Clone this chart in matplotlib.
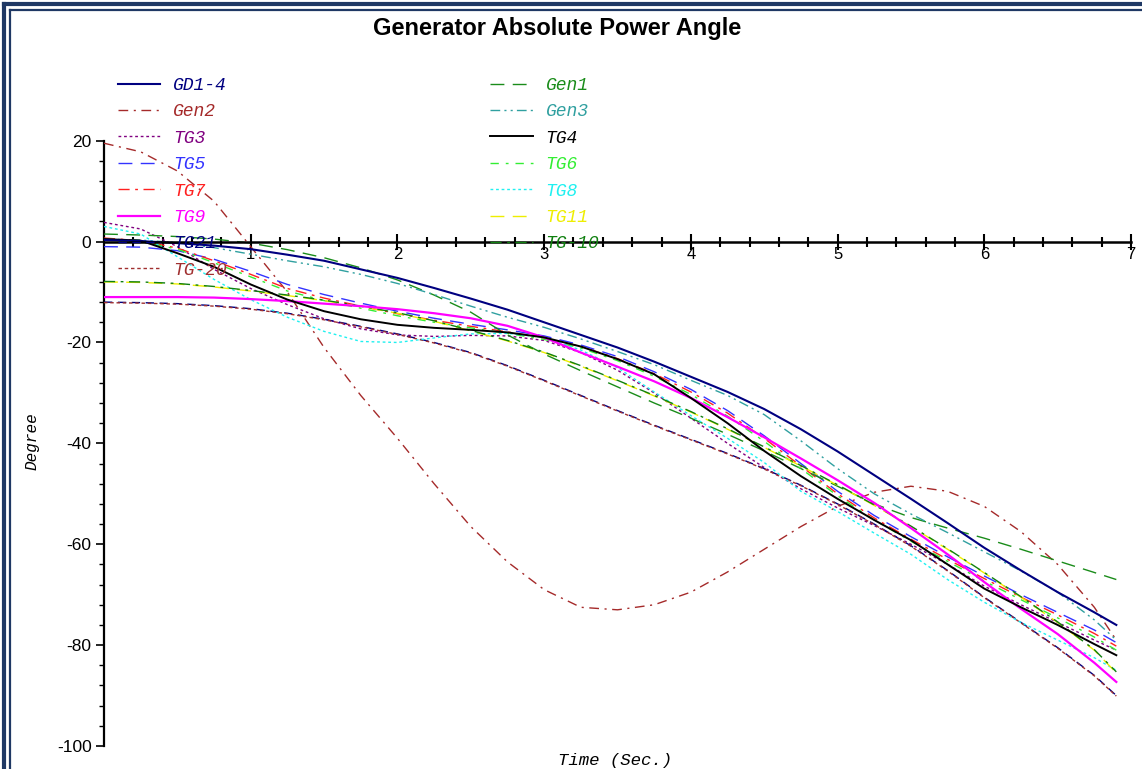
import matplotlib
matplotlib.use('Agg')
import matplotlib.pyplot as plt
from matplotlib.ticker import FixedLocator
from matplotlib.lines import Line2D

plt.rcParams['lines.scale_dashes'] = False
plt.rcParams['axes.unicode_minus'] = False
plt.rcParams['font.family'] = ['Liberation Sans', 'DejaVu Sans']

# ---------------- data ----------------
time = [0, 0.25, 0.5, 0.75, 1, 1.25, 1.5, 1.75, 2, 2.25, 2.5, 2.75, 3, 3.25, 3.5,
        3.75, 4, 4.25, 4.5, 4.75, 5, 5.25, 5.5, 5.75, 6, 6.25, 6.5, 6.75, 6.9]

gd1_4 = [0.3, 0.1, -0.3, -0.8, -1.5, -2.6, -3.8, -5.5, -7.2, -9.2, -11.3, -13.5, -16.0, -18.5, -21.0,
         -23.8, -26.8, -29.8, -33.2, -37.2, -41.6, -46.3, -51.0, -55.8, -60.7, -65.2, -69.5, -73.5, -76.0]
gen1 = [1.5, 1.3, 1.0, 0.5, -0.3, -1.6, -3.2, -5.2, -7.6, -10.6, -14.0, -18.5, -22.3, -25.6, -28.8,
        -32.0, -35.0, -38.2, -41.5, -45.0, -48.5, -52.0, -54.7, -56.8, -58.8, -61.0, -63.3, -65.6, -67.0]
gen2 = [19.5, 17.8, 14.0, 8.0, -1.0, -10.0, -21.0, -30.5, -39.0, -48.0, -56.5, -63.5, -69.0, -72.5, -73.0,
        -72.0, -69.5, -65.5, -61.0, -56.5, -52.5, -49.7, -48.5, -49.5, -52.5, -57.5, -64.0, -72.5, -79.0]
gen3 = [0.5, 0.3, -0.2, -1.2, -2.5, -3.8, -5.0, -6.5, -8.3, -10.5, -12.8, -15.0, -17.0, -19.3, -21.8,
        -24.4, -27.5, -30.5, -34.3, -39.5, -45.0, -50.0, -54.0, -57.7, -61.5, -65.3, -69.5, -75.0, -79.0]
tg3 = [3.8, 2.5, -1.0, -5.5, -9.3, -12.5, -15.3, -17.3, -18.5, -18.8, -18.6, -18.7, -19.6, -22.0, -25.5,
       -30.0, -35.0, -40.0, -44.8, -49.0, -52.8, -56.3, -60.0, -64.0, -68.3, -72.0, -75.5, -79.0, -81.0]
tg4 = [0.5, 0.2, -2.3, -5.0, -8.5, -11.5, -13.8, -15.4, -16.5, -17.1, -17.5, -18.0, -19.0, -20.8, -23.3,
       -26.3, -31.0, -36.0, -41.5, -46.5, -51.0, -55.2, -59.2, -64.0, -68.8, -72.5, -76.0, -79.8, -82.0]
tg5 = [-1.0, -1.1, -1.8, -3.5, -5.9, -8.5, -10.5, -12.2, -13.8, -15.2, -16.4, -17.5, -18.7, -20.5, -22.8,
       -25.8, -29.3, -33.5, -38.5, -44.0, -49.5, -54.3, -58.5, -62.5, -66.3, -70.0, -73.5, -77.0, -79.5]
tg6 = [0.3, 0.0, -1.5, -4.2, -7.0, -9.8, -11.7, -13.2, -14.7, -16.0, -17.1, -18.2, -19.4, -21.1, -23.6,
       -26.7, -30.3, -34.6, -39.6, -45.0, -50.4, -55.2, -59.4, -63.4, -67.3, -71.0, -74.6, -78.4, -81.0]
tg7 = [0.7, 0.2, -1.3, -3.8, -6.5, -9.3, -11.2, -12.8, -14.3, -15.6, -16.8, -17.9, -19.1, -20.8, -23.2,
       -26.2, -29.8, -34.0, -39.0, -44.5, -50.0, -54.8, -59.0, -63.0, -66.8, -70.5, -74.0, -77.7, -80.2]
tg8 = [3.0, 1.5, -3.0, -7.5, -11.5, -15.0, -17.8, -19.8, -20.0, -19.1, -18.3, -18.2, -19.0, -21.5, -25.0,
       -29.8, -34.5, -39.0, -43.8, -49.5, -53.5, -57.8, -62.0, -67.0, -71.5, -75.5, -79.0, -82.5, -85.0]
tg9 = [-11.0, -11.0, -11.0, -11.1, -11.4, -11.8, -12.3, -12.8, -13.4, -14.2, -15.2, -16.7, -19.0, -22.0, -24.8,
       -27.7, -31.0, -34.8, -38.8, -43.0, -47.3, -51.8, -56.8, -62.0, -67.5, -72.8, -77.8, -83.5, -87.3]
tg11 = [-8.0, -8.1, -8.4, -9.0, -9.8, -10.7, -11.7, -12.9, -14.2, -15.8, -17.7, -19.7, -22.0, -24.7, -27.6,
        -30.6, -33.8, -37.2, -40.8, -44.5, -48.3, -52.3, -56.5, -61.0, -65.7, -70.5, -75.5, -81.0, -85.5]
tg21 = [-12.0, -12.1, -12.3, -12.7, -13.3, -14.2, -15.4, -16.8, -18.3, -20.0, -22.0, -24.6, -27.5, -30.5, -33.5,
        -36.4, -39.2, -42.0, -45.0, -48.3, -52.0, -56.0, -60.3, -65.2, -70.5, -75.5, -80.5, -86.0, -90.0]
tg_10 = [-7.9, -8.0, -8.3, -8.9, -9.7, -10.6, -11.6, -12.8, -14.1, -15.7, -17.6, -19.6, -21.9, -24.6, -27.5,
         -30.5, -33.7, -37.1, -40.7, -44.4, -48.2, -52.2, -56.4, -60.9, -65.6, -70.4, -75.4, -80.9, -85.3]
tg_20 = [-12.1, -12.2, -12.4, -12.8, -13.4, -14.3, -15.5, -16.9, -18.4, -20.1, -22.1, -24.7, -27.6, -30.6, -33.6,
         -36.5, -39.3, -42.1, -45.1, -48.4, -52.1, -56.1, -60.4, -65.3, -70.6, -75.6, -80.6, -86.1, -90.1]

labels = ['GD1-4', 'Gen2', 'TG3', 'TG5', 'TG7', 'TG9', 'TG21', 'TG-20',
          'Gen1', 'Gen3', 'TG4', 'TG6', 'TG8', 'TG11', 'TG-10']
values = [gd1_4, gen2, tg3, tg5, tg7, tg9, tg21, tg_20,
          gen1, gen3, tg4, tg6, tg8, tg11, tg_10]

x_ticks = [1, 2, 3, 4, 5, 6, 7]
x_tick_labels = ['1', '2', '3', '4', '5', '6', '7']
y_ticks = [-100, -80, -60, -40, -20, 0, 20]
y_tick_labels = ['-100', '-80', '-60', '-40', '-20', '0', '20']

# styles: (color, linewidth, dashes or None, zorder)
styles = {
    'GD1-4': ('#000080', 1.5, None, 6),
    'Gen2': ('#a52a2a', 1.0, (7, 4, 1.5, 4), 3),
    'TG3': ('#800080', 1.0, (2, 2), 3),
    'TG5': ('#3333ff', 1.0, (10, 6), 3),
    'TG7': ('#ff2020', 1.0, (8, 4, 2, 4), 3),
    'TG9': ('#ff00ff', 1.6, None, 4),
    'TG21': ('#000080', 1.0, (6, 4), 3),
    'TG-20': ('#a03030', 1.0, (2.5, 2), 3),
    'Gen1': ('#1a8c1a', 1.0, (10, 6), 3),
    'Gen3': ('#30a0a0', 1.0, (7, 3, 1.5, 3, 1.5, 3), 3),
    'TG4': ('#000000', 1.4, None, 5),
    'TG6': ('#33ee33', 1.0, (6, 5, 2, 5), 3),
    'TG8': ('#20f0f0', 1.0, (2, 2), 3),
    'TG11': ('#eeee00', 1.0, (10, 6), 3),
    'TG-10': ('#108010', 1.0, (8, 4, 2, 4), 3),
}

W, H = 1142, 769
fig = plt.figure(figsize=(W / 100, H / 100), dpi=100)
fig.patch.set_facecolor('white')

ax_left, ax_right, ax_top, ax_bottom = 104, 1131, 60, 746
ax = fig.add_axes([ax_left / W, 1 - ax_bottom / H, (ax_right - ax_left) / W, (ax_bottom - ax_top) / H])
ax.set_xlim(0, 7)
ax.set_ylim(-100, 36.0)
ax.patch.set_alpha(0)

handles = []
for lab, vals in zip(labels, values):
    c, lw, dsh, z = styles[lab]
    if dsh is None:
        h, = ax.plot(time, vals, color=c, lw=lw, zorder=z, label=lab)
    else:
        h, = ax.plot(time, vals, color=c, lw=lw, dashes=dsh, zorder=z, label=lab)
    handles.append(h)

# spines
for s in ['top', 'right']:
    ax.spines[s].set_visible(False)
ax.spines['left'].set_bounds(-100, 20)
ax.spines['left'].set_linewidth(1.6)
ax.spines['bottom'].set_position(('data', 0))
ax.spines['bottom'].set_linewidth(1.8)
ax.spines['bottom'].set_zorder(7)

ax.set_xticks(x_ticks)
ax.set_xticklabels(x_tick_labels)
ax.xaxis.set_minor_locator(FixedLocator([i * 0.2 for i in range(1, 35) if i % 5 != 0]))
ax.set_yticks(y_ticks)
ax.set_yticklabels(y_tick_labels)
ax.yaxis.set_minor_locator(FixedLocator([v for v in range(-96, 20, 4) if v % 20 != 0]))

ax.tick_params(axis='x', which='major', direction='inout', length=12, width=1.5, pad=-2, labelsize=12)
ax.tick_params(axis='x', which='minor', direction='inout', length=7, width=1.5)
ax.tick_params(axis='y', which='major', direction='out', length=6, width=1.2, pad=3, labelsize=12.5)
ax.tick_params(axis='y', which='minor', direction='out', length=3.5, width=1.0)

mono = dict(family='Liberation Mono', style='italic')
ax.set_xlabel('Time (Sec.)', fontsize=12.5, **mono)
ax.xaxis.set_label_coords((615 - ax_left) / (ax_right - ax_left), (ax_bottom - 761) / (ax_bottom - ax_top))
ax.xaxis.label.set_va('center')
ax.set_ylabel('Degree', fontsize=11.5, **mono)
ax.yaxis.set_label_coords((32 - ax_left) / (ax_right - ax_left), (ax_bottom - 441) / (ax_bottom - ax_top))
ax.yaxis.label.set_va('center')

fig.text(557 / W, 1 - 28 / H, 'Generator Absolute Power Angle', ha='center', va='center',
         fontsize=17, fontweight='bold', family='Liberation Sans')

leg = fig.legend(handles=handles, labels=labels, ncol=2, loc='upper left',
                 bbox_to_anchor=(118 / W, 1 - 77 / H), frameon=False,
                 prop=dict(family='Liberation Mono', style='italic', size=13),
                 labelcolor='linecolor', handlelength=2.33, handletextpad=0.72,
                 columnspacing=14.6, labelspacing=0.52, borderpad=0, borderaxespad=0)

# double navy frame (left and top)
fc = '#1f3864'
for pos, lw in [(3.5, 3.0), (9.5, 1.6)]:
    fig.add_artist(Line2D([pos / W, pos / W], [0, 1 - pos / H], color=fc, lw=lw, transform=fig.transFigure))
    fig.add_artist(Line2D([pos / W, 1], [1 - pos / H, 1 - pos / H], color=fc, lw=lw, transform=fig.transFigure))

fig.savefig('out.png', dpi=100, facecolor='white')
